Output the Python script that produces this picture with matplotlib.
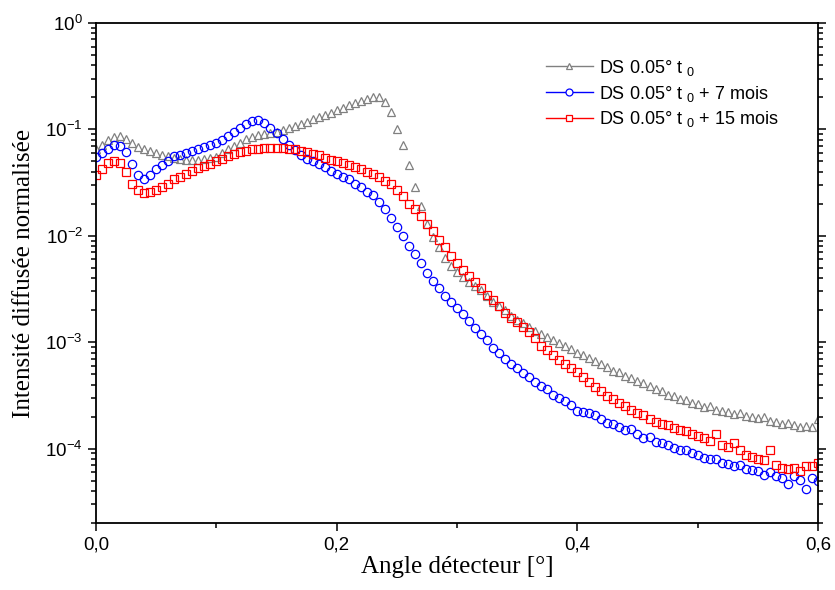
import numpy as np
import matplotlib
matplotlib.use("Agg")
import matplotlib.pyplot as plt
from matplotlib.lines import Line2D
from matplotlib.ticker import LogLocator, FixedLocator, FuncFormatter, NullFormatter

plt.rcParams['font.family'] = ['Liberation Sans', 'DejaVu Sans']
plt.rcParams['mathtext.fontset'] = 'custom'
plt.rcParams['mathtext.rm'] = 'Liberation Sans'
plt.rcParams['mathtext.it'] = 'Liberation Sans'

# detector angle (deg)
angle = [0.000, 0.005, 0.010, 0.015, 0.020, 0.025, 0.030, 0.035, 0.040, 0.045,
         0.050, 0.055, 0.060, 0.065, 0.070, 0.075, 0.080, 0.085, 0.090, 0.095,
         0.100, 0.105, 0.110, 0.115, 0.120, 0.125, 0.130, 0.135, 0.140, 0.145,
         0.150, 0.155, 0.160, 0.165, 0.170, 0.175, 0.180, 0.185, 0.190, 0.195,
         0.200, 0.205, 0.210, 0.215, 0.220, 0.225, 0.230, 0.235, 0.240, 0.245,
         0.250, 0.255, 0.260, 0.265, 0.270, 0.275, 0.280, 0.285, 0.290, 0.295,
         0.300, 0.305, 0.310, 0.315, 0.320, 0.325, 0.330, 0.335, 0.340, 0.345,
         0.350, 0.355, 0.360, 0.365, 0.370, 0.375, 0.380, 0.385, 0.390, 0.395,
         0.400, 0.405, 0.410, 0.415, 0.420, 0.425, 0.430, 0.435, 0.440, 0.445,
         0.450, 0.455, 0.460, 0.465, 0.470, 0.475, 0.480, 0.485, 0.490, 0.495,
         0.500, 0.505, 0.510, 0.515, 0.520, 0.525, 0.530, 0.535, 0.540, 0.545,
         0.550, 0.555, 0.560, 0.565, 0.570, 0.575, 0.580, 0.585, 0.590, 0.595,
         0.600]

ds_t0 = [0.066, 0.072, 0.079, 0.084, 0.086, 0.082, 0.075, 0.068, 0.065, 0.062,
         0.060, 0.058, 0.056, 0.054, 0.0527, 0.052, 0.0517, 0.052, 0.053, 0.054,
         0.0556, 0.060, 0.065, 0.070, 0.075, 0.081, 0.085, 0.088, 0.091, 0.093,
         0.095, 0.099, 0.103, 0.107, 0.112, 0.118, 0.125, 0.132, 0.138, 0.143,
         0.152, 0.160, 0.168, 0.176, 0.184, 0.192, 0.200, 0.203, 0.182, 0.145,
         0.100, 0.072, 0.046, 0.029, 0.019, 0.0128, 0.0098, 0.0079, 0.0062, 0.0052,
         0.0046, 0.0041, 0.0037, 0.0034, 0.0031, 0.0027, 0.0024, 0.0022, 0.0020, 0.00178,
         0.00162, 0.00150, 0.00139, 0.00128, 0.00120, 0.00112, 0.00105, 0.00098, 0.00092, 0.00086,
         0.00080, 0.00076, 0.00071, 0.00066, 0.00062, 0.00059, 0.00054, 0.00052, 0.00048, 0.00046,
         0.00043, 0.00041, 0.00039, 0.00036, 0.00035, 0.00032, 0.00031, 0.00029, 0.000285, 0.00027,
         0.00026, 0.000245, 0.00025, 0.000232, 0.000225, 0.00022, 0.000212, 0.000215, 0.000203, 0.0002,
         0.000192, 0.000198, 0.000182, 0.000178, 0.000172, 0.000175, 0.000165, 0.00016, 0.000163, 0.000158,
         0.00019]

ds_7mois = [0.055, 0.060, 0.066, 0.071, 0.070, 0.061, 0.047, 0.037, 0.0345, 0.0375,
            0.042, 0.046, 0.051, 0.056, 0.058, 0.060, 0.062, 0.065, 0.068, 0.071,
            0.075, 0.079, 0.086, 0.095, 0.104, 0.113, 0.120, 0.123, 0.116, 0.104,
            0.092, 0.081, 0.072, 0.064, 0.058, 0.053, 0.050, 0.047, 0.044, 0.041,
            0.038, 0.036, 0.034, 0.031, 0.029, 0.026, 0.024, 0.021, 0.018, 0.0148,
            0.0121, 0.0100, 0.0081, 0.0067, 0.0055, 0.0045, 0.0038, 0.0032, 0.0027, 0.0024,
            0.0021, 0.00185, 0.00158, 0.00135, 0.00120, 0.00105, 0.00088, 0.00079, 0.00070, 0.00062,
            0.00057, 0.00051, 0.00047, 0.00042, 0.00039, 0.00036, 0.00032, 0.00030, 0.00028, 0.000255,
            0.000225, 0.00022, 0.000215, 0.000205, 0.00019, 0.000175, 0.00017, 0.000158, 0.000148, 0.000152,
            0.000138, 0.000125, 0.000128, 0.000115, 0.000112, 0.000108, 0.000102, 9.6e-5, 9.8e-5, 9.0e-5,
            8.8e-5, 8.2e-5, 7.9e-5, 8.0e-5, 7.4e-5, 7.2e-5, 6.8e-5, 7.0e-5, 6.4e-5, 6.3e-5,
            6.1e-5, 5.6e-5, 6.0e-5, 5.5e-5, 5.3e-5, 4.6e-5, 5.5e-5, 5.1e-5, 4.2e-5, 5.3e-5,
            5.0e-5]

ds_15mois = [0.037, 0.042, 0.048, 0.051, 0.048, 0.040, 0.031, 0.027, 0.0255, 0.026,
             0.027, 0.029, 0.031, 0.034, 0.036, 0.038, 0.041, 0.043, 0.045, 0.047,
             0.050, 0.053, 0.056, 0.059, 0.061, 0.063, 0.065, 0.066, 0.067, 0.0675,
             0.0675, 0.067, 0.066, 0.065, 0.063, 0.061, 0.059, 0.057, 0.054, 0.052,
             0.050, 0.048, 0.046, 0.044, 0.042, 0.040, 0.038, 0.036, 0.033, 0.031,
             0.027, 0.0235, 0.020, 0.0178, 0.0155, 0.0130, 0.0110, 0.0091, 0.0078, 0.0065,
             0.0055, 0.0048, 0.0042, 0.0037, 0.0032, 0.0028, 0.0025, 0.0022, 0.0019, 0.0017,
             0.00155, 0.00140, 0.00126, 0.00110, 0.00093, 0.00084, 0.00076, 0.00068, 0.00062, 0.00057,
             0.00052, 0.00047, 0.00042, 0.00038, 0.00035, 0.00031, 0.00029, 0.00027, 0.00025, 0.00023,
             0.000218, 0.000205, 0.000188, 0.000178, 0.000172, 0.000165, 0.000155, 0.00015, 0.000145, 0.000138,
             0.000132, 0.000125, 0.000118, 0.000138, 0.000108, 0.000104, 0.000112, 9.6e-5, 8.8e-5, 8.3e-5,
             7.9e-5, 7.8e-5, 9.8e-5, 7.0e-5, 6.6e-5, 6.4e-5, 6.6e-5, 6.2e-5, 6.8e-5, 6.9e-5,
             7.3e-5]

labels = ['DS 0.05° t $_{0}$', 'DS 0.05° t $_{0}$ + 7 mois', 'DS 0.05° t $_{0}$ + 15 mois']
colors = ['#808080', '#0000ff', '#ff0000']
markers = ['^', 'o', 's']

fig = plt.figure(figsize=(8.35, 5.9), dpi=100)
ax = fig.add_axes([0.115, 0.1136, 0.8646, 0.8474])

for y, c, m in zip([ds_t0, ds_7mois, ds_15mois], colors, markers):
    ax.plot(angle, y, linestyle='none', marker=m, markersize=6,
            markerfacecolor='none', markeredgecolor=c, markeredgewidth=0.9)

ax.set_yscale('log')
ax.set_xlim(0, 0.6)
ax.set_ylim(2e-5, 1)

ax.xaxis.set_major_locator(FixedLocator([0.0, 0.2, 0.4, 0.6]))
ax.xaxis.set_minor_locator(FixedLocator([0.1, 0.3, 0.5]))
ax.xaxis.set_major_formatter(FuncFormatter(lambda v, p: f"{v:.1f}".replace('.', ',')))
ax.yaxis.set_major_locator(LogLocator(base=10, numticks=10))
ax.yaxis.set_minor_locator(LogLocator(base=10, subs=np.arange(2, 10), numticks=10))
ax.yaxis.set_minor_formatter(NullFormatter())
ax.yaxis.set_major_formatter(FuncFormatter(lambda v, p: r"$10^{%d}$" % round(np.log10(v))))

ax.tick_params(which='both', direction='out', width=1.1, labelsize=13.5,
               top=True, right=True)
ax.tick_params(which='major', length=6)
ax.tick_params(which='minor', length=3.5)
ax.tick_params(axis='x', which='both', top=False)
for s in ax.spines.values():
    s.set_linewidth(1.3)

ax.set_xlabel('Angle détecteur [°]', family='Liberation Serif', fontsize=18, labelpad=2)
ax.set_ylabel('Intensité diffusée normalisée', family='Liberation Serif', fontsize=18)
ax.yaxis.set_label_coords(-0.085, 0.5)

handles = [Line2D([], [], color=c, marker=m, markersize=5, linewidth=1,
                  markerfacecolor='white', markeredgecolor=c, markeredgewidth=0.9)
           for c, m in zip(colors, markers)]
ax.legend(handles, labels, loc='upper left', bbox_to_anchor=(0.613, 0.945),
          frameon=False, fontsize=13, handlelength=2.6, handletextpad=0.35,
          labelspacing=0.32, borderaxespad=0)

fig.savefig('out.png', dpi=100)
